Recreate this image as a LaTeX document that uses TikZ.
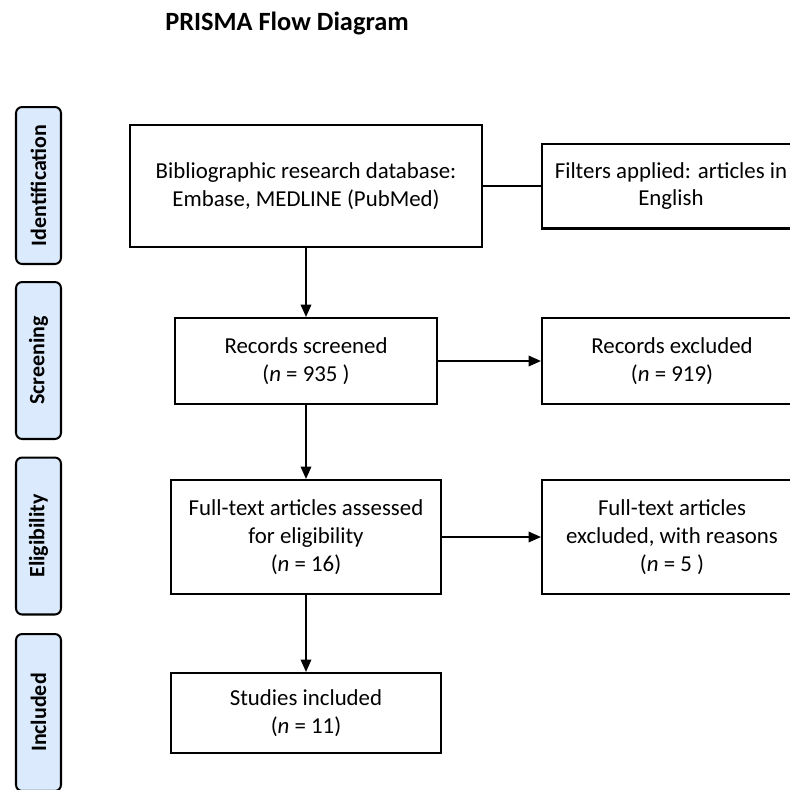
\documentclass[tikz,border=0pt]{standalone}
\usepackage{fontspec}
\setmainfont{Carlito}
\usetikzlibrary{arrows.meta}
\definecolor{TabClr}{RGB}{219,234,252}

\begin{document}
\begin{tikzpicture}[x=0.02cm,y=-0.02cm,
  box/.style={draw,line width=1.15pt,align=center,inner sep=0pt,
    font=\fontsize{13}{15.8}\selectfont},
  tab/.style={draw,line width=1.15pt,fill=TabClr,rounded corners=3.5pt,rotate=90,
    minimum width=3.14cm,minimum height=0.9cm,inner sep=0pt,
    font=\bfseries\fontsize{12.5}{14}\selectfont},
  link/.style={line width=1.15pt},
  arr/.style={link,-{Triangle[length=0.25cm,width=0.21cm]}}]
\useasboundingbox (0,0) rectangle (790,789);
\clip (0,0) rectangle (790,789);

\node[font=\bfseries\fontsize{15}{17}\selectfont] (title) at (287,23) {PRISMA Flow Diagram};

\foreach \y/\t [count=\i] in {185.5/Identification,360.5/Screening,536/Eligibility,712.5/Included}
  \node[tab] (tab\i) at (38.5,\y) {\t};

\node[box,minimum width=7.06cm,minimum height=2.44cm] (db) at (306,186)
  {Bibliographic research database:\\Embase, MEDLINE (PubMed)};
\node[box,minimum width=5.16cm,minimum height=1.7cm] (filt) at (671,186)
  {Filters applied: articles in\\English};
\node[box,minimum width=5.26cm,minimum height=1.72cm] (scr) at (306,361)
  {Records screened\\(\textit{n} = 935 )};
\node[box,minimum width=5.2cm,minimum height=1.72cm] (rexc) at (672,361)
  {Records excluded\\(\textit{n} = 919)};
\node[box,minimum width=5.42cm,minimum height=2.28cm] (ft) at (306,537)
  {Full-text articles assessed\\for eligibility\\(\textit{n} = 16)};
\node[box,minimum width=5.2cm,minimum height=2.28cm] (ftexc) at (672,537)
  {Full-text articles\\excluded, with reasons\\(\textit{n} = 5 )};
\node[box,minimum width=5.4cm,minimum height=1.6cm] (inc) at (306,713)
  {Studies included\\(\textit{n} = 11)};

\draw[link] (db) -- (filt);
\draw[arr] (db) -- (scr);
\draw[arr] (scr) -- (rexc);
\draw[arr] (scr) -- (ft);
\draw[arr] (ft) -- (ftexc);
\draw[arr] (ft) -- (inc);

\end{tikzpicture}
\end{document}
